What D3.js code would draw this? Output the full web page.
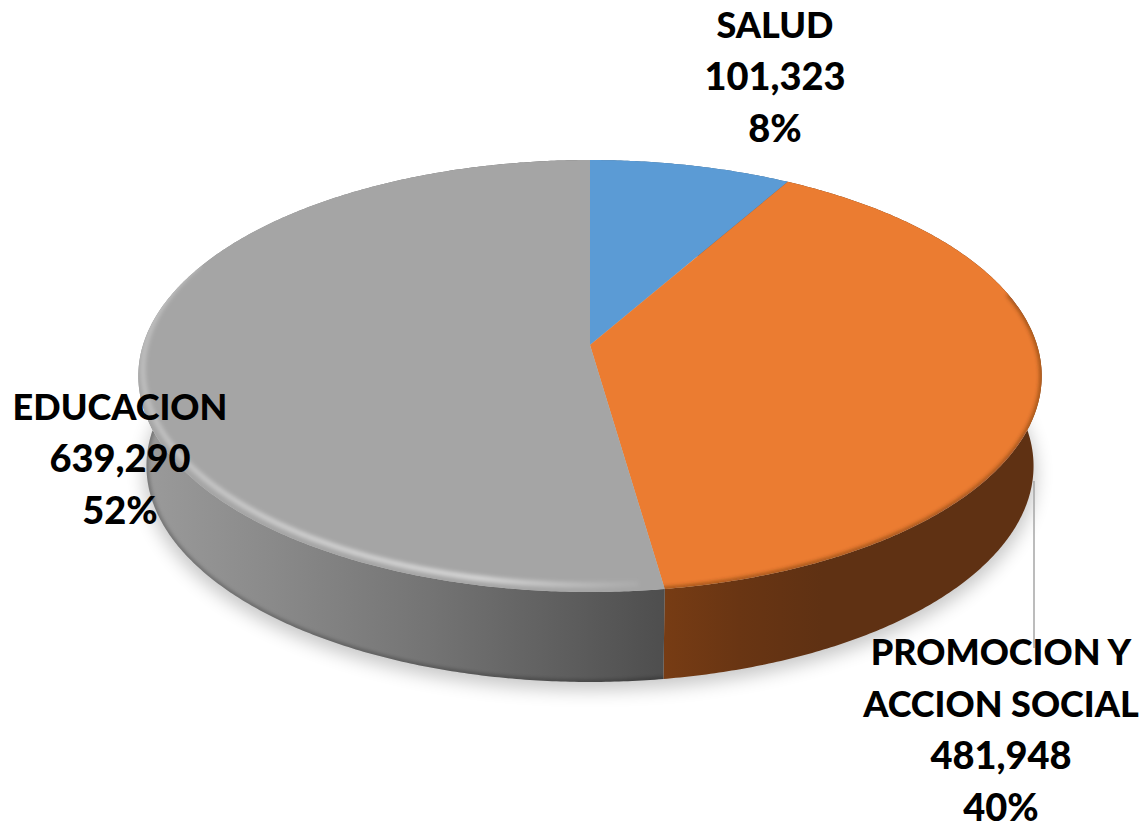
<!DOCTYPE html>
<html><head><meta charset="utf-8">
<style>html,body{margin:0;padding:0;background:#fff}svg{display:block}</style>
<script src="https://cdn.jsdelivr.net/npm/d3@7/dist/d3.min.js"></script>
</head><body><div id="chart"></div>
<script>
const categories = ["SALUD", "PROMOCION Y ACCION SOCIAL", "EDUCACION"];
const values = [101323, 481948, 639290];
const percentLabels = ["8%", "40%", "52%"];

const W = 1145, H = 829;
const svg = d3.select("#chart").append("svg").attr("width", W).attr("height", H);
const defs = svg.append("defs");

// Perspective projection of the unit disc onto the page
const cx = 590, cy = 345, k = 447, persp = 0.1435, tilt = -162, depth = 90, baseScale = 0.982;
function project(theta, dy = 0, s = 1) {
  const u = Math.sin(theta), v = Math.cos(theta), d = persp * v + 1;
  return [cx + s * k * u / d, (tilt * v + cy) / d + dy];
}
const pie = d3.pie().sort(null).value(d => d)(values);
const colors = ["#5b9bd5", "#eb7c31", "#a5a5a5"];
const line = d3.line();
const step = Math.PI / 360;
const thetas = (a, b) => d3.range(a, b, step).concat([b]);
const rim = (a, b, dy, s) => thetas(a, b).map(t => project(t, dy, s));
const fullRim = (dy, s) => line(rim(0, 2 * Math.PI, dy, s)) + "Z";

function grad(id, x1, x2, stops) {
  const g = defs.append("linearGradient").attr("id", id).attr("gradientUnits", "userSpaceOnUse")
    .attr("x1", x1).attr("x2", x2).attr("y1", 0).attr("y2", 0);
  stops.forEach(s => g.append("stop").attr("offset", s[0]).attr("stop-color", s[1]).attr("stop-opacity", s[2] === undefined ? 1 : s[2]));
}
grad("sideGray", 140, 664, [[0, "#9b9b9b"], [0.25, "#8a8a8a"], [0.55, "#747474"], [0.8, "#5f5f5f"], [1, "#4e4e4e"]]);
grad("sideOrange", 664, 1041, [[0, "#773c14"], [0.2, "#693513"], [0.42, "#5f3113"], [1, "#5f3113"]]);
grad("sideBlue", 590, 790, [[0, "#3a6387"], [1, "#3a6387"]]);
grad("glint", 140, 664, [[0, "#ffffff", 0.3], [0.3, "#ffffff", 0.5], [0.65, "#ffffff", 0.6], [0.9, "#ffffff", 0.15], [1, "#ffffff", 0]]);
const sideFill = ["url(#sideBlue)", "url(#sideOrange)", "url(#sideGray)"];

[["b2", 2], ["b10", 9]].forEach(([id, sd]) => {
  defs.append("filter").attr("id", id).attr("x", "-10%").attr("y", "-10%").attr("width", "120%").attr("height", "120%")
    .append("feGaussianBlur").attr("stdDeviation", sd);
});
pie.forEach((p, i) => {
  const pts = [[cx, cy]].concat(rim(p.startAngle, p.endAngle, 0, 1));
  p.topPath = line(pts) + "Z";
  defs.append("clipPath").attr("id", "clip" + i).append("path").attr("d", p.topPath);
  const sidePts = rim(p.startAngle, p.endAngle, 0, 1).concat(rim(p.startAngle, p.endAngle, depth, baseScale).reverse());
  p.sidePath = line(sidePts) + "Z";
  defs.append("clipPath").attr("id", "sclip" + i).append("path").attr("d", p.sidePath);
});

// soft ground shadow
svg.append("path").attr("d", fullRim(depth + 8, baseScale * 1.005)).attr("fill", "#000").attr("opacity", 0.22).attr("filter", "url(#b10)");

// sides
svg.append("g").selectAll("path").data(pie).join("path")
  .attr("d", d => d.sidePath).attr("fill", (d, i) => sideFill[i]);

// dark lip at the foot of the gray side
svg.append("g").attr("clip-path", "url(#sclip2)").append("path")
  .attr("d", fullRim(depth, baseScale)).attr("fill", "none").attr("stroke", "#000").attr("stroke-opacity", 0.4)
  .attr("stroke-width", 3).attr("filter", "url(#b2)");

// top faces
svg.append("g").selectAll("path").data(pie).join("path")
  .attr("d", d => d.topPath).attr("fill", (d, i) => colors[i]);

// bevel: orange darkens softly toward its front edge only
svg.append("g").attr("clip-path", "url(#clip1)").append("path")
  .attr("d", line(rim(Math.PI * 0.42, Math.PI, 0, 1))).attr("fill", "none").attr("stroke", "#5f3113").attr("stroke-opacity", 0.8)
  .attr("stroke-width", 3).attr("filter", "url(#b2)");

// bevel: gray catches a light glint just inside its front edge
const grayClip = svg.append("g").attr("clip-path", "url(#clip2)");
grayClip.append("path").attr("d", line(rim(Math.PI * 0.97, Math.PI * 1.62, -7, 0.99))).attr("fill", "none")
  .attr("stroke", "url(#glint)").attr("stroke-width", 5).attr("filter", "url(#b2)");

// leader line of the orange slice
svg.append("line").attr("x1", 1034).attr("x2", 1034).attr("y1", 481).attr("y2", 648)
  .attr("stroke", "#a6a6a6").attr("stroke-width", 1.5);

// labels
const fmt = d3.format(",");
const labelLines = [
  ["SALUD", fmt(values[0]), percentLabels[0]],
  ["PROMOCION Y", "ACCION SOCIAL", fmt(values[1]), percentLabels[1]],
  [categories[2], fmt(values[2]), percentLabels[2]]
];
const anchors = [[775, 38], [1001, 665], [120, 420]];
const isNumeric = t => /^[\d,%]+$/.test(t);
const labels = svg.append("g").attr("font-family", "Lato, 'Open Sans', sans-serif")
  .attr("font-weight", 900).attr("fill", "#000").attr("text-anchor", "middle");
labelLines.forEach((ls, i) => {
  ls.forEach((t, j) => labels.append("text")
    .attr("x", anchors[i][0]).attr("y", anchors[i][1] + j * 52)
    .attr("font-size", isNumeric(t) ? 38 : 36).text(t));
});
</script></body></html>
